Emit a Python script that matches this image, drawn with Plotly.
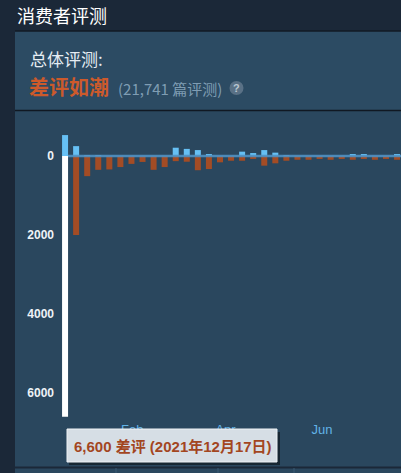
import pandas as pd
import plotly.graph_objects as go

W, H = 401, 473

# weekly review counts, weeks starting 2021-12-17
week_start = pd.date_range("2021-12-17", periods=31, freq="7D")
positive = [530, 250, 10, 20, 0, 0, 0, 0, 0, 0, 210, 180, 150, 40, 0, 0,
            110, 75, 150, 85, 25, 0, 0, 0, 0, 0, 50, 35, 0, 0, 50]
negative = [6600, 2000, 510, 350, 340, 280, 200, 150, 350, 280, 130, 145,
            360, 330, 160, 120, 120, 75, 245, 185, 120, 95, 95, 75, 95, 75,
            95, 75, 95, 75, 95]

y_ticks = [0, 2000, 4000, 6000]
month_ticks = ["2022-02-01", "2022-04-01", "2022-06-01"]
month_labels = ["Feb", "Apr", "Jun"]

title = "消费者评测"
summary_label = "总体评测:"
summary_rating = "差评如潮"
summary_count = "(21,741 篇评测)"
tooltip = "6,600 差评 (2021年12月17日)"

POS = "#66c0f4"
NEG = "#a34c25"
FONT = "Liberation Sans, Arial, Noto Sans CJK SC"
CJK = "Noto Sans CJK SC, Liberation Sans"


def px(x):
    return x / W


def py(y):
    return 1 - y / H


centers = week_start + pd.Timedelta(days=3.5)
bar_w = 3.8 * 86400000

fig = go.Figure()
fig.add_trace(go.Bar(x=centers, y=positive, width=bar_w,
                     marker=dict(color=POS, line_width=0), hoverinfo="skip"))
fig.add_trace(go.Bar(x=centers, y=[-v for v in negative], width=bar_w,
                     marker=dict(color=["#ffffff"] + [NEG] * (len(negative) - 1),
                                 line_width=0),
                     hoverinfo="skip"))

shapes = [
    # panel
    dict(type="rect", xref="paper", yref="paper", x0=px(15), x1=1, y0=0, y1=py(31),
         fillcolor="#2a475e", line_width=0, layer="below"),
    dict(type="rect", xref="paper", yref="paper", x0=px(15), x1=1, y0=py(110), y1=py(31),
         fillcolor="#2c4b63", line_width=0, layer="below"),
    dict(type="line", xref="paper", yref="paper", x0=px(15), x1=1, y0=py(31), y1=py(31),
         line=dict(color="#121a24", width=1.5), layer="below"),
    dict(type="line", xref="paper", yref="paper", x0=px(15), x1=1, y0=py(110.5), y1=py(110.5),
         line=dict(color="#101822", width=1.5), layer="below"),
    # bottom strip
    dict(type="line", xref="paper", yref="paper", x0=px(15), x1=1, y0=py(467.5), y1=py(467.5),
         line=dict(color="#1b2838", width=2), layer="below"),
    # help icon
    dict(type="circle", xref="paper", yref="paper", x0=px(229.5), x1=px(243.5),
         y0=py(95), y1=py(81), fillcolor="#5a7186", line_width=0, layer="above"),
    # zero line
    dict(type="line", xref="paper", yref="y", x0=px(68), x1=1, y0=0, y1=0,
         line=dict(color="rgba(80,145,195,0.9)", width=2.5), layer="above"),
    # tooltip shadow + box
    dict(type="rect", xref="paper", yref="paper", x0=px(69), x1=px(280), y0=py(465), y1=py(432),
         fillcolor="rgba(0,0,0,0.45)", line_width=0, layer="above"),
    dict(type="rect", xref="paper", yref="paper", x0=px(67), x1=px(277), y0=py(462), y1=py(429),
         fillcolor="#d6dee5", line=dict(color="#eef2f5", width=1), layer="above"),
]
for x in [116, 218, 294]:
    shapes.append(dict(type="line", xref="paper", yref="paper", x0=px(x), x1=px(x),
                       y0=0, y1=py(468), line=dict(color="#3b5a72", width=1), layer="below"))

annotations = [
    dict(text=title, x=px(15), y=py(15), font=dict(family=CJK, size=18, color="#ffffff")),
    dict(text=summary_label, x=px(28), y=py(58), font=dict(family=CJK, size=17, color="#e6edf3")),
    dict(text="<b>" + summary_rating + "</b>", x=px(27), y=py(87),
         font=dict(family=CJK, size=20, color="#cd5a2b")),
    dict(text=summary_count, x=px(116), y=py(88), font=dict(family=CJK, size=15, color="#7f9db3")),
    dict(text="<b>?</b>", x=px(236.5), y=py(88), xanchor="center",
         font=dict(family=FONT, size=11, color="#b9c7d2")),
    dict(text="<b>" + tooltip + "</b>", x=px(72), y=py(446),
         font=dict(family=FONT + ", Noto Sans CJK SC", size=15, color="#a3461f")),
]
for a in annotations:
    a.update(xref="paper", yref="paper", showarrow=False)
    a.setdefault("xanchor", "left")
    a.setdefault("yanchor", "middle")

# zero at y=156px, 79px per 2000 reviews
top, bottom, zero, scale = 115, 420, 156, 79 / 2000

fig.update_layout(
    width=W, height=H,
    margin=dict(l=0, r=0, t=0, b=0),
    paper_bgcolor="#1b2838",
    plot_bgcolor="rgba(0,0,0,0)",
    barmode="relative",
    showlegend=False,
    shapes=shapes,
    annotations=annotations,
    xaxis=dict(
        domain=[px(60), 1],
        type="date",
        range=[week_start[0] + pd.Timedelta(days=0.3), pd.Timestamp("2022-07-21")],
        tickvals=month_ticks, ticktext=month_labels,
        tickfont=dict(family=FONT, size=13, color="#62b3e6"),
        showgrid=False, zeroline=False, showline=False, ticks="",
        automargin=False,
    ),
    yaxis=dict(
        domain=[py(bottom), py(top)],
        range=[-(bottom - zero) / scale, (zero - top) / scale],
        tickvals=[-v for v in y_ticks],
        ticktext=["<b>%d</b>" % v for v in y_ticks],
        tickfont=dict(family=FONT, size=12, color="#eef3f7"),
        showgrid=False, zeroline=False, showline=False, ticks="",
        ticklabelstandoff=5,
        automargin=False,
    ),
)

# drop the default page margin so the figure sits at the window's corner
fig.write_html("out.html", config={"displayModeBar": False},
               post_script="document.body.style.margin='0';")
